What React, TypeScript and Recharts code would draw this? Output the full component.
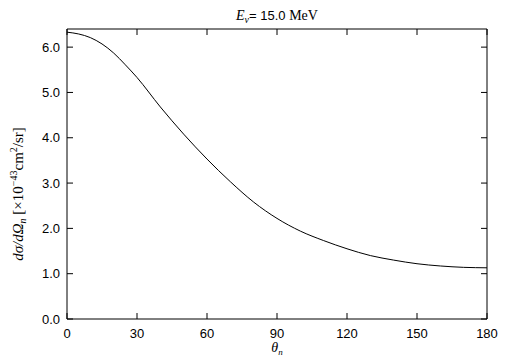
import React from 'react';
import { LineChart, Line, XAxis, YAxis, ReferenceLine } from 'recharts';

// angles (deg) and cross section values
const angles = [0, 5, 10, 15, 20, 25, 30, 40, 50, 60, 70, 80, 90, 100, 110, 120, 130, 140, 150, 160, 170, 180];
const dsigma = [6.33, 6.29, 6.21, 6.07, 5.87, 5.61, 5.33, 4.68, 4.08, 3.53, 3.03, 2.58, 2.22, 1.94, 1.73, 1.55, 1.40, 1.30, 1.22, 1.17, 1.14, 1.13];

const xTicks = [0, 30, 60, 90, 120, 150, 180];
const yTicks = [0, 1, 2, 3, 4, 5, 6];

const X_MAX = 180;
const Y_MAX = 6.4;

const chartData = angles.map((a, i) => ({ theta: a, value: dsigma[i] }));

const SANS = '"Liberation Sans", Arial, Helvetica, sans-serif';
const SERIF = '"Liberation Serif", "Times New Roman", serif';

// inward tick length (~6px) expressed in data units of the 420x290 plot box
const TX = (6 / 420) * X_MAX;
const TY = (6 / 290) * Y_MAX;

const BottomTick = (props: any) => {
  const { x, y, payload } = props;
  return (
    <text x={x} y={y + 19} textAnchor="middle" fill="#000" fontSize={13} fontFamily={SANS}>
      {payload.value}
    </text>
  );
};

const LeftTick = (props: any) => {
  const { x, y, payload } = props;
  return (
    <text x={x - 7} y={y + 4.5} textAnchor="end" fill="#000" fontSize={13} fontFamily={SANS}>
      {Number(payload.value).toFixed(1)}
    </text>
  );
};

const Labels = () => (
  <g>
    <text x={277} y={20} textAnchor="middle" fill="#000" fontSize={14}>
      <tspan fontFamily={SERIF} fontStyle="italic">E</tspan>
      <tspan fontFamily={SERIF} fontStyle="italic" fontSize={10} dy={3}>ν</tspan>
      <tspan fontFamily={SANS} fontSize={13} dy={-3}>= 15.0 </tspan>
      <tspan fontFamily={SERIF}>MeV</tspan>
    </text>
    <text x={277} y={352} textAnchor="middle" fill="#000" fontSize={14} fontFamily={SERIF} fontStyle="italic">
      <tspan>θ</tspan>
      <tspan fontSize={9} dy={3}>n</tspan>
    </text>
    <text x={23} y={194} transform="rotate(-90 23 194)" textAnchor="middle" fill="#000" fontSize={15} fontFamily={SERIF}>
      <tspan fontStyle="italic">dσ/dΩ</tspan>
      <tspan fontStyle="italic" fontSize={10} dy={3}>n</tspan>
      <tspan dy={-3}> [×10</tspan>
      <tspan fontSize={10} dy={-6}>−43</tspan>
      <tspan dy={6}>cm</tspan>
      <tspan fontSize={10} dy={-6}>2</tspan>
      <tspan dy={6}>/sr]</tspan>
    </text>
  </g>
);

export default function App() {
  return (
    <div style={{ position: 'absolute', left: 0, top: 0, width: 505, height: 361, background: '#fff' }}>
      <LineChart width={505} height={361} data={chartData} margin={{ top: 29, right: 18, bottom: 0, left: 0 }}>
        <XAxis
          dataKey="theta"
          type="number"
          domain={[0, X_MAX]}
          ticks={xTicks}
          interval={0}
          height={42}
          tickSize={0}
          tickMargin={0}
          tickLine={false}
          stroke="#000"
          tick={<BottomTick />}
          label={{ content: () => <Labels /> }}
        />
        <YAxis
          type="number"
          domain={[0, Y_MAX]}
          ticks={yTicks}
          interval={0}
          width={67}
          tickSize={0}
          tickMargin={0}
          tickLine={false}
          stroke="#000"
          tick={<LeftTick />}
        />
        {/* frame: top and right borders */}
        <ReferenceLine y={Y_MAX} stroke="#000" strokeWidth={1} />
        <ReferenceLine x={X_MAX} stroke="#000" strokeWidth={1} />
        {/* inward ticks on all four sides */}
        {xTicks.map((t) => (
          <ReferenceLine key={`xb${t}`} segment={[{ x: t, y: 0 }, { x: t, y: TY }]} stroke="#000" />
        ))}
        {xTicks.map((t) => (
          <ReferenceLine key={`xt${t}`} segment={[{ x: t, y: Y_MAX }, { x: t, y: Y_MAX - TY }]} stroke="#000" />
        ))}
        {yTicks.map((t) => (
          <ReferenceLine key={`yl${t}`} segment={[{ x: 0, y: t }, { x: TX, y: t }]} stroke="#000" />
        ))}
        {yTicks.map((t) => (
          <ReferenceLine key={`yr${t}`} segment={[{ x: X_MAX, y: t }, { x: X_MAX - TX, y: t }]} stroke="#000" />
        ))}
        <Line
          type="monotone"
          dataKey="value"
          stroke="#000"
          strokeWidth={1}
          dot={false}
          isAnimationActive={false}
        />
      </LineChart>
    </div>
  );
}
